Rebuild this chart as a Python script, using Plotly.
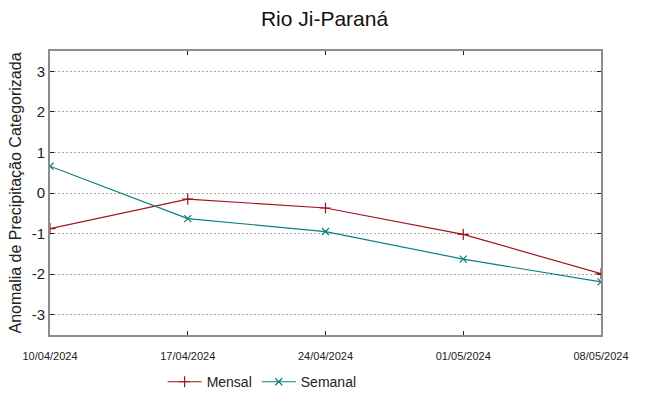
import plotly.graph_objects as go

dates = ["2024-04-10", "2024-04-17", "2024-04-24", "2024-05-01", "2024-05-08"]
tick_labels = ["10/04/2024", "17/04/2024", "24/04/2024", "01/05/2024", "08/05/2024"]
mensal = [-0.88, -0.15, -0.37, -1.02, -1.99]
semanal = [0.66, -0.63, -0.95, -1.63, -2.19]
y_ticks = [-3, -2, -1, 0, 1, 2, 3]
y_tick_labels = ["-3", "-2", "-1", "0", "1", "2", "3"]

fig = go.Figure()
fig.add_trace(go.Scatter(
    x=dates, y=mensal, name="Mensal", mode="lines+markers",
    line=dict(color="#a0141e", width=1.2),
    marker=dict(symbol="cross-thin-open", size=8, line=dict(color="#a0141e", width=1.2)),
))
fig.add_trace(go.Scatter(
    x=dates, y=semanal, name="Semanal", mode="lines+markers",
    line=dict(color="#0a7f7f", width=1.2),
    marker=dict(symbol="x-thin-open", size=7, line=dict(color="#0a7f7f", width=1.2)),
))

fig.update_layout(
    width=649, height=396,
    margin=dict(l=50, r=48, t=51, b=61, autoexpand=False),
    paper_bgcolor="white", plot_bgcolor="white",
    font=dict(family="Liberation Sans, Arial, sans-serif", color="#222"),
    title=dict(text="Rio Ji-Paraná", x=0.5, xanchor="center", y=0.953, yanchor="middle",
               font=dict(size=21, color="#111")),
    showlegend=True,
    legend=dict(orientation="h", x=0.385, xanchor="center", xref="paper",
                y=0.035, yref="container", yanchor="middle",
                font=dict(size=14),
                itemwidth=34, bgcolor="rgba(0,0,0,0)"),
)
fig.update_xaxes(
    type="date", range=[dates[0], dates[-1]],
    tickvals=dates, ticktext=tick_labels,
    tickfont=dict(size=11),
    ticklabelstandoff=10, automargin=False,
    showgrid=False, zeroline=False,
    showline=True, linecolor="#8c8c8c", linewidth=2, mirror="ticks",
    ticks="inside", ticklen=4, tickcolor="#222", tickwidth=1,
)
fig.update_yaxes(
    range=[-3.5, 3.5], tickvals=y_ticks, ticktext=y_tick_labels,
    tickfont=dict(size=15), automargin=False,
    showgrid=True, gridcolor="#a8a8a8", griddash="2px,2px", gridwidth=1,
    zeroline=False,
    showline=True, linecolor="#8c8c8c", linewidth=2, mirror="ticks",
    ticks="inside", ticklen=4, tickcolor="#222", tickwidth=1,
    title=dict(text="Anomalia de Precipitação Categorizada", font=dict(size=16), standoff=6),
)
fig.write_html("out.html", config={"displayModeBar": False},
               post_script="document.body.style.margin='0';document.body.style.padding='0';")
